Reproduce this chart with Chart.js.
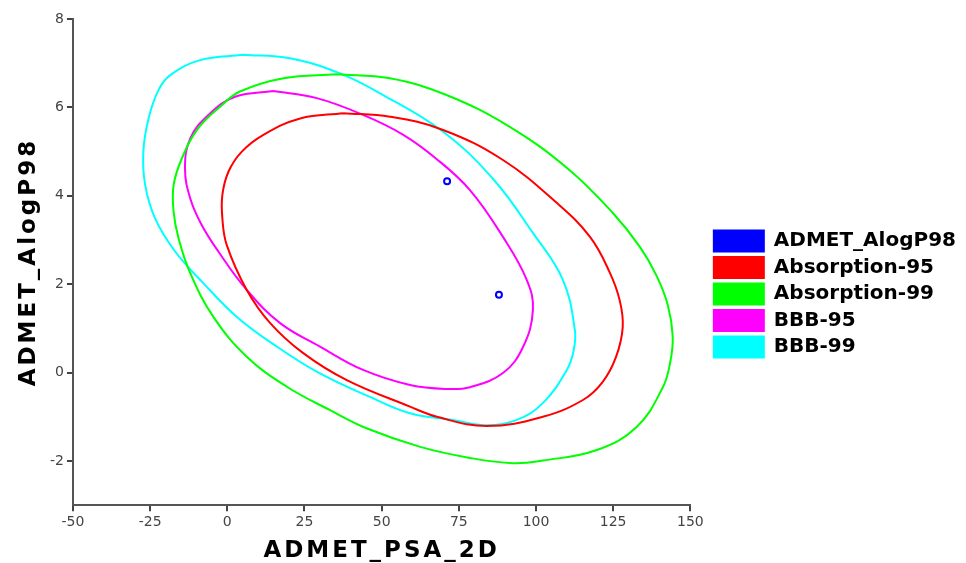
<!DOCTYPE html>
<html>
<head>
<meta charset="utf-8">
<title>ADMET plot</title>
<script src="https://cdn.jsdelivr.net/npm/chart.js@4/dist/chart.umd.min.js"></script>
<style>
  html, body { margin: 0; padding: 0; background: #fff; }
  #wrap { width: 966px; height: 563px; position: relative; }
</style>
</head>
<body>
<div id="wrap"><canvas id="admetChart"></canvas></div>
<script>
// --- Data
const xTicks = [-50, -25, 0, 25, 50, 75, 100, 125, 150];
const yTicks = [-2, 0, 2, 4, 6, 8];

const seriesNames = ['ADMET_AlogP98', 'Absorption-95', 'Absorption-99', 'BBB-95', 'BBB-99'];
const seriesColors = ['#0000ff', '#ff0000', '#00ff00', '#ff00ff', '#00ffff'];

// compounds (PSA_2D, AlogP98)
const compoundPsa = [71.2, 88.0];
const compoundAlogP = [4.33, 1.76];

// ellipse outlines, traced clockwise from the top [PSA_2D, AlogP98]
const absorption95 = [
  [37.6, 5.87], [52.7, 5.79], [69.9, 5.49], [89.3, 4.81], [106.7, 3.84], [117.5, 3.07],
  [123.8, 2.28], [127.1, 1.64], [128.1, 1.03], [125.9, 0.35], [121.5, -0.22], [115.2, -0.62],
  [102.2, -1.00], [84.1, -1.21], [67.9, -1.00], [59.2, -0.77], [38.7, -0.17], [24.6, 0.44],
  [13.9, 1.12], [6.3, 1.87], [-0.2, 2.89], [-1.6, 3.49], [-1.6, 4.02], [0.4, 4.55],
  [4.7, 5.00], [11.7, 5.38], [23.6, 5.75]
];
const absorption99 = [
  [35.4, 6.75], [52.7, 6.66], [71.0, 6.28], [91.5, 5.56], [110.9, 4.58], [124.9, 3.61],
  [133.7, 2.84], [139.0, 2.20], [142.7, 1.53], [144.3, 0.81], [143.5, 0.24], [141.1, -0.33],
  [132.6, -1.23], [119.7, -1.75], [102.2, -1.99], [92.5, -2.05], [78.6, -1.93], [62.5, -1.68],
  [45.1, -1.26], [33.3, -0.85], [19.3, -0.32], [6.3, 0.36], [-4.5, 1.26], [-12.0, 2.25],
  [-15.8, 3.04], [-17.4, 3.64], [-17.4, 4.24], [-14.7, 4.85], [-9.4, 5.53], [-1.8, 6.05],
  [4.1, 6.36], [18.2, 6.66]
];
const bbb95 = [
  [14.9, 6.37], [29.0, 6.21], [44.0, 5.83], [57.0, 5.38], [67.5, 4.85], [78.6, 4.13],
  [89.3, 3.07], [97.0, 2.10], [99.0, 1.42], [95.8, 0.58], [89.3, -0.01], [78.6, -0.33],
  [71.2, -0.37], [59.2, -0.28], [44.0, 0.06], [30.0, 0.59], [17.1, 1.12], [6.3, 1.87],
  [-2.9, 2.74], [-8.3, 3.34], [-12.0, 3.94], [-13.7, 4.62], [-12.0, 5.30], [-6.1, 5.83], [2.5, 6.24]
];
const bbb99 = [
  [5.2, 7.19], [20.3, 7.11], [36.5, 6.77], [50.5, 6.28], [69.9, 5.45], [86.1, 4.38],
  [99.0, 3.16], [108.7, 2.10], [112.6, 0.96], [112.2, 0.50], [110.0, 0.06], [102.2, -0.69],
  [93.8, -1.07], [84.1, -1.19], [73.1, -1.07], [59.2, -0.92], [46.2, -0.55], [30.0, -0.02],
  [16.0, 0.59], [3.1, 1.26], [-7.7, 2.02], [-16.9, 2.74], [-23.4, 3.49], [-26.6, 4.24],
  [-27.2, 5.00], [-25.5, 5.75], [-22.3, 6.39], [-18.5, 6.73], [-8.8, 7.07]
];

// closed loop: repeat the first point at the end
function loop(pairs) {
  const pts = pairs.map(p => ({ x: p[0], y: p[1] }));
  pts.push({ x: pairs[0][0], y: pairs[0][1] });
  return pts;
}

function ellipseSet(idx, pairs) {
  return {
    label: seriesNames[idx],
    data: loop(pairs),
    showLine: true,
    tension: 0.4,
    fill: false,
    borderColor: seriesColors[idx],
    backgroundColor: seriesColors[idx],
    borderWidth: 2,
    pointRadius: 0,
    pointHoverRadius: 0
  };
}

// axis titles in the original are letter-spaced
const spacedTitles = {
  id: 'spacedTitles',
  beforeDraw(chart) {
    ['x', 'y'].forEach(id => {
      const scale = chart.scales[id];
      if (!scale || scale._spaced) return;
      const drawTitle = scale.drawTitle;
      scale.drawTitle = function () {
        const c = this.ctx;
        const prev = c.letterSpacing;
        c.letterSpacing = '3px';
        drawTitle.call(this);
        c.letterSpacing = prev;
      };
      scale._spaced = true;
    });
  }
};

const tickFont = { family: 'DejaVu Sans', size: 14 };
const titleFont = { family: 'DejaVu Sans', size: 23, weight: 'bold', lineHeight: 1 };

const ctx = document.getElementById('admetChart').getContext('2d');
new Chart(ctx, {
  type: 'scatter',
  data: {
    datasets: [
      {
        label: seriesNames[0],
        data: compoundPsa.map((v, i) => ({ x: v, y: compoundAlogP[i] })),
        borderColor: seriesColors[0],
        backgroundColor: seriesColors[0],
        pointBackgroundColor: '#ffffff',
        pointBorderColor: seriesColors[0],
        pointRadius: 3,
        pointBorderWidth: 2,
        borderWidth: 2
      },
      ellipseSet(1, absorption95),
      ellipseSet(2, absorption99),
      ellipseSet(3, bbb95),
      ellipseSet(4, bbb99)
    ]
  },
  options: {
    responsive: true,
    maintainAspectRatio: false,
    animation: false,
    layout: { padding: { top: 19, left: 10, right: 0, bottom: 0 } },
    scales: {
      x: {
        type: 'linear',
        min: -50,
        max: 150,
        afterBuildTicks: s => { s.ticks = xTicks.map(v => ({ value: v })); },
        ticks: { font: tickFont, color: '#444', padding: 3, maxRotation: 0 },
        grid: { drawOnChartArea: false, drawTicks: true, tickLength: 6, color: '#444', lineWidth: 2 },
        border: { display: true, color: '#555', width: 2 },
        title: { display: true, text: 'ADMET_PSA_2D', font: titleFont, color: '#000', padding: { top: 6, bottom: 0 } }
      },
      y: {
        type: 'linear',
        position: 'left',
        min: -3,
        max: 8,
        afterBuildTicks: s => { s.ticks = yTicks.map(v => ({ value: v })); },
        ticks: { font: tickFont, color: '#444', padding: 3 },
        grid: { drawOnChartArea: false, drawTicks: true, tickLength: 6, color: '#444', lineWidth: 2 },
        border: { display: true, color: '#555', width: 2 },
        title: { display: true, text: 'ADMET_AlogP98', font: titleFont, color: '#000', padding: { top: 8, bottom: 6 } }
      },
      // empty spacer between the plot and the legend
      gap: {
        type: 'linear',
        position: 'right',
        display: true,
        grid: { display: false },
        border: { display: false },
        ticks: { display: false },
        afterFit: s => { s.width = 18; }
      }
    },
    plugins: {
      legend: {
        position: 'right',
        align: 'center',
        maxWidth: 400,
        // empty title only nudges the items down a little
        title: { display: true, text: '', font: { size: 5 }, padding: 0 },
        labels: {
          boxWidth: 50,
          boxHeight: 21,
          padding: 5.5,
          color: '#000',
          font: { family: 'DejaVu Sans', size: 20, weight: 'bold' },
          // solid swatches for every entry
          generateLabels: chart => Chart.defaults.plugins.legend.labels.generateLabels(chart)
            .map(item => Object.assign(item, { fillStyle: item.strokeStyle }))
        }
      },
      tooltip: { enabled: false }
    }
  },
  plugins: [spacedTitles]
});
</script>
</body>
</html>
